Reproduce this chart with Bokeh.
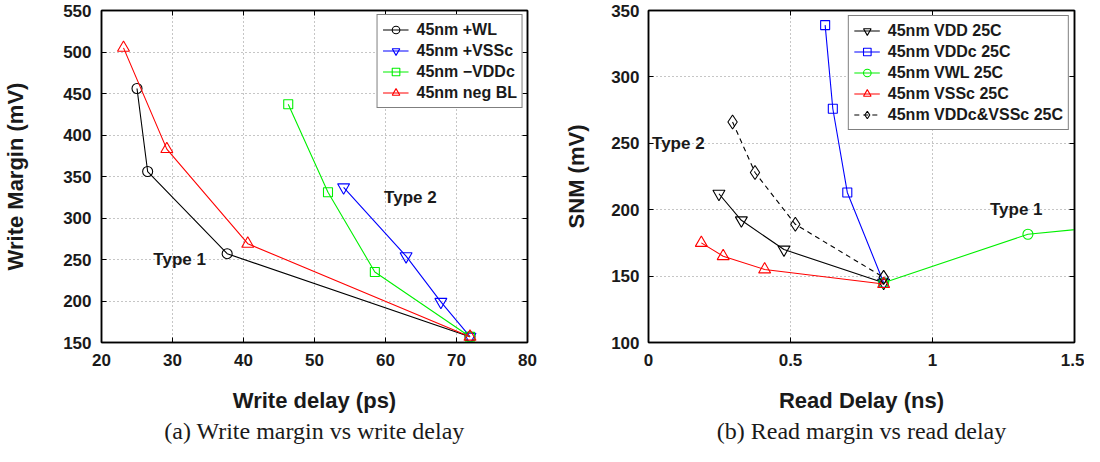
from bokeh.plotting import figure
from bokeh.models import Legend, LegendItem, Title, FixedTicker, LinearAxis, Range1d
from bokeh.layouts import row
from bokeh.embed import file_html
from bokeh.resources import INLINE
from bokeh.core.properties import value

# ---- (a) Write margin vs write delay ----
wl_x = [25.0, 26.5, 37.7, 71.9]
wl_y = [456, 356, 257, 157]
vssc_x = [54.1, 62.9, 67.8, 71.9]
vssc_y = [337, 254, 199, 157]
vddc_x = [46.3, 51.9, 58.5, 71.9]
vddc_y = [437, 331, 235, 157]
negbl_x = [23.1, 29.2, 40.6, 71.9]
negbl_y = [505, 383, 269, 157]
a_xticks = [20, 30, 40, 50, 60, 70, 80]
a_yticks = [150, 200, 250, 300, 350, 400, 450, 500, 550]
a_note_x = [31.0, 63.5]
a_note_y = [250, 325]
a_note_t = ["Type 1", "Type 2"]

# ---- (b) Read margin vs read delay ----
vdd_x = [0.248, 0.327, 0.477, 0.828]
vdd_y = [212, 192, 170, 145]
vddc25_x = [0.622, 0.649, 0.700, 0.828]
vddc25_y = [339, 276, 213, 145]
vwl_x = [0.828, 1.336, 2.0]
vwl_y = [145, 181.5, 195.5]
vssc25_x = [0.186, 0.263, 0.409, 0.828]
vssc25_y = [175, 165, 155, 144]
both_x = [0.296, 0.375, 0.517, 0.828]
both_y = [266, 228, 189, 149]
b_xticks = [0, 0.5, 1, 1.5]
b_xlabels = ["0", "0.5", "1", "1.5"]
b_yticks = [100, 150, 200, 250, 300, 350]
b_note_x = [0.105, 1.295]
b_note_y = [250, 200]
b_note_t = ["Type 2", "Type 1"]

SANS = "Liberation Sans"
SERIF = "Liberation Serif"
TXT = "#1a1a1a"


def blank_axis(ticks):
    return LinearAxis(ticker=FixedTicker(ticks=ticks), major_tick_in=5, major_tick_out=0,
                      minor_tick_in=0, minor_tick_out=0,
                      major_label_overrides={t: "" for t in ticks},
                      major_label_text_font_size="1px", major_label_standoff=0,
                      axis_line_color="black", axis_line_width=1.5)


def base_fig(width, xr, yr, xticks, yticks, bl, br, bt, bb, xlabel, ylabel,
             ylab_standoff, ytick_standoff):
    p = figure(width=width, height=446, x_range=Range1d(*xr), y_range=Range1d(*yr),
               output_backend="svg", toolbar_location=None,
               min_border_left=bl, min_border_right=br, min_border_top=bt, min_border_bottom=bb)
    p.outline_line_color = "black"
    p.outline_line_width = 1.5
    p.outline_line_alpha = 1.0
    for ax in (p.xaxis, p.yaxis):
        ax.major_tick_in = 5
        ax.major_tick_out = 0
        ax.minor_tick_in = 0
        ax.minor_tick_out = 0
        ax.axis_line_color = "black"
        ax.axis_line_width = 1.5
        ax.major_label_text_font = SANS
        ax.major_label_text_font_style = "bold"
        ax.major_label_text_font_size = "17px"
        ax.major_label_text_color = TXT
        ax.axis_label_text_font = SANS
        ax.axis_label_text_font_style = "bold"
        ax.axis_label_text_font_size = "22px"
        ax.axis_label_text_color = TXT
    p.xaxis.ticker = FixedTicker(ticks=xticks)
    p.yaxis.ticker = FixedTicker(ticks=yticks)
    p.xaxis.major_label_standoff = 11
    p.yaxis.major_label_standoff = ytick_standoff
    p.xaxis.axis_label = xlabel
    p.yaxis.axis_label = ylabel
    p.xaxis.axis_label_standoff = 19
    p.yaxis.axis_label_standoff = ylab_standoff
    for g in (p.xgrid, p.ygrid):
        g.grid_line_color = "#8c8c8c"
        g.grid_line_dash = "1 3"
        g.grid_line_width = 1
    p.xgrid.ticker = FixedTicker(ticks=xticks)
    p.ygrid.ticker = FixedTicker(ticks=yticks)
    p.add_layout(blank_axis(xticks), "above")
    p.add_layout(blank_axis(yticks), "right")
    return p


def series(p, xs, ys, color, marker, size, dash="solid"):
    l = p.line(xs, ys, line_color=color, line_width=1.1, line_dash=dash)
    m = p.scatter(xs, ys, marker=marker, size=size, line_color=color, fill_alpha=0,
                  line_width=1.1)
    return [l, m]


def style_legend(leg, margin):
    leg.location = "top_right"
    leg.label_text_font = SANS
    leg.label_text_font_style = "bold"
    leg.label_text_font_size = "16px"
    leg.label_text_color = TXT
    leg.border_line_color = "black"
    leg.border_line_width = 1.5
    leg.background_fill_alpha = 1.0
    leg.glyph_width = 26
    leg.glyph_height = 19
    leg.label_height = 19
    leg.spacing = 2
    leg.padding = 5
    leg.label_standoff = 8
    leg.margin = margin


# ---- figure (a) ----
pa = base_fig(542, (20, 80), (150, 550), a_xticks, a_yticks, 99, 15, 10, 104,
              "Write delay (ps)", "Write Margin (mV)", 32, 10)
r1 = series(pa, wl_x, wl_y, "black", "circle", 10)
r2 = series(pa, vssc_x, vssc_y, "blue", "inverted_triangle", 12)
r3 = series(pa, vddc_x, vddc_y, "#00f000", "square", 9)
r4 = series(pa, negbl_x, negbl_y, "red", "triangle", 12)
pa.text(a_note_x, a_note_y, text=a_note_t, text_font=value(SANS), text_font_style="bold",
        text_font_size="17px", text_align="center", text_baseline="middle", text_color=TXT)
leg_a = Legend(items=[LegendItem(label="45nm +WL", renderers=r1),
                      LegendItem(label="45nm +VSSc", renderers=r2),
                      LegendItem(label="45nm \u2212VDDc", renderers=r3),
                      LegendItem(label="45nm neg BL", renderers=r4)])
style_legend(leg_a, 4)
pa.add_layout(leg_a, "center")
pa.add_layout(Title(text="(a) Write margin vs write delay", text_font=SERIF,
                    text_font_size="24px", text_font_style="normal", align="center",
                    offset=18, standoff=1, text_color=TXT), "below")

# ---- figure (b) ----
pb = base_fig(542, (0, 1.5), (100, 350), b_xticks, b_yticks, 106, 10, 10, 104,
              "Read Delay (ns)", "SNM (mV)", 19, 9)
pb.xaxis.major_label_overrides = {t: s for t, s in zip(b_xticks, b_xlabels)}
s1 = series(pb, vdd_x, vdd_y, "black", "inverted_triangle", 12)
s2 = series(pb, vddc25_x, vddc25_y, "blue", "square", 9)
s3 = series(pb, vwl_x, vwl_y, "#00f000", "circle", 10)
s4 = series(pb, vssc25_x, vssc25_y, "red", "triangle", 12)
s5 = series(pb, both_x, both_y, "black", "diamond", 14, dash="5 4")
pb.text(b_note_x, b_note_y, text=b_note_t, text_font=value(SANS), text_font_style="bold",
        text_font_size="17px", text_align="center", text_baseline="middle", text_color=TXT)
leg_b = Legend(items=[LegendItem(label="45nm VDD 25C", renderers=s1),
                      LegendItem(label="45nm VDDc 25C", renderers=s2),
                      LegendItem(label="45nm VWL 25C", renderers=s3),
                      LegendItem(label="45nm VSSc 25C", renderers=s4),
                      LegendItem(label="45nm VDDc&VSSc 25C", renderers=s5)])
style_legend(leg_b, 5)
pb.add_layout(leg_b, "center")
pb.add_layout(Title(text="(b) Read margin vs read delay", text_font=SERIF,
                    text_font_size="24px", text_font_style="normal", align="center",
                    offset=17, standoff=1, text_color=TXT), "below")

layout = row(pa, pb)
open("out.html", "w").write(file_html(layout, INLINE))
